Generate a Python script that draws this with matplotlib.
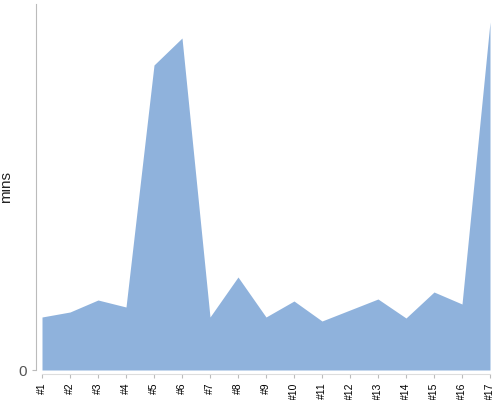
import numpy as np
import matplotlib.pyplot as plt

plt.rcParams["font.family"] = ["Liberation Sans", "DejaVu Sans"]

labels = ["#%d" % i for i in range(1, 18)]
mins = [53, 58, 70, 63, 305, 332, 53, 93, 53, 69, 49, 60, 71, 52, 78, 66, 348]

fig = plt.figure(figsize=(5, 4), dpi=100)
ax = fig.add_axes([42 / 500, 30 / 400, 448 / 500, 366 / 400])

x = np.arange(len(mins))
ax.fill_between(x, 0, mins, color="#8fb2dc", linewidth=0)
ax.set_xlim(0, len(mins) - 1)
ax.set_ylim(0, 366)

for s in ["top", "right"]:
    ax.spines[s].set_visible(False)
ax.spines["left"].set_position(("outward", 4))
ax.spines["bottom"].set_position(("outward", 3))
ax.spines["left"].set_color("#bbbbbb")
ax.spines["bottom"].set_color("#dddddd")
ax.tick_params(axis="x", length=3, color="#bbbbbb", pad=3)
ax.tick_params(axis="y", length=3, color="#bbbbbb", pad=4)

ax.set_xticks(x)
ax.set_xticklabels(labels, fontsize=7.5)
plt.setp(ax.get_xticklabels(), rotation=90, rotation_mode="anchor",
         ha="right", va="center")
ax.set_yticks([0])
ax.set_yticklabels(["0"], fontsize=11, color="#555555")
ax.set_ylabel("mins", fontsize=11, color="#222222")
ax.yaxis.set_label_coords(-0.065, 0.5)

fig.savefig("out.png", dpi=100)
